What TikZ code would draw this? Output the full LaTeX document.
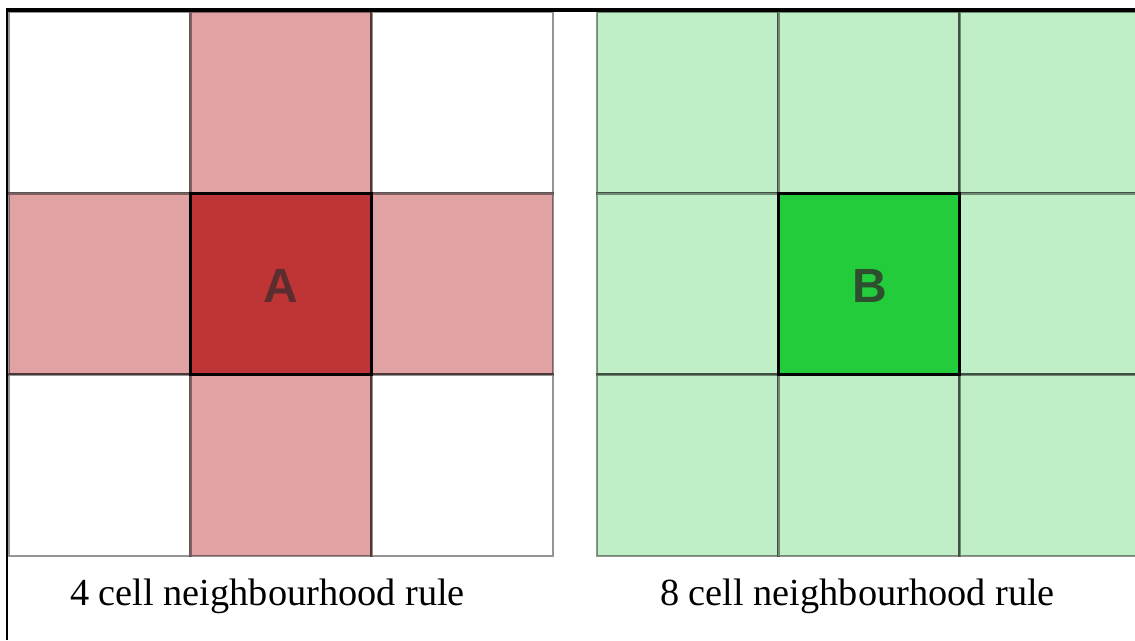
\documentclass[tikz,border=0pt]{standalone}
\usepackage{fontspec}
\setmainfont{Liberation Serif}
\newfontfamily\labfont{Liberation Sans}
\usetikzlibrary{positioning}
\definecolor{lred}{HTML}{E0A2A3}
\definecolor{dred}{HTML}{BF3434}
\definecolor{lgreen}{HTML}{C0EEC6}
\definecolor{dgreen}{HTML}{22CC3A}
\definecolor{atext}{HTML}{5C2D2F}
\definecolor{btext}{HTML}{2D4F2F}
\begin{document}
\begin{tikzpicture}[x=1pt,y=-1pt,
  cell/.style={rectangle,minimum width=181.3pt,minimum height=181.3pt,inner sep=0pt,outer sep=0pt,
    draw=black,draw opacity=0.42,line width=2.6pt},
  centercell/.style={cell,draw opacity=1,line width=3pt},
  letter/.style={font=\labfont\bfseries\fontsize{48}{52}\selectfont},
  caption/.style={font=\fontsize{38.3}{44}\selectfont,text=black,inner sep=0pt,anchor=base},
  frame/.style={black}]
\useasboundingbox (0,0) rectangle (1135,640);
\fill[white] (0,0) rectangle (1135,640);
% left grid (4-neighbourhood)
\node[cell,fill=white] (l11) at (99.65,102.65) {};
\node[cell,fill=lred]  (l12) at (281,102.65) {};
\node[cell,fill=white] (l13) at (462.35,102.65) {};
\node[cell,fill=lred]  (l21) at (99.65,284) {};
\node[cell,fill=lred]  (l23) at (462.35,284) {};
\node[cell,fill=white] (l31) at (99.65,465.35) {};
\node[cell,fill=lred]  (l32) at (281,465.35) {};
\node[cell,fill=white] (l33) at (462.35,465.35) {};
\node[centercell,fill=dred] (l22) at (281,284) {};
\node[letter,text=atext] (A) at (281,286) {A};
% right grid (8-neighbourhood)
\node[cell,fill=lgreen] (r11) at (687.65,102.65) {};
\node[cell,fill=lgreen] (r12) at (869,102.65) {};
\node[cell,fill=lgreen] (r13) at (1050.35,102.65) {};
\node[cell,fill=lgreen] (r21) at (687.65,284) {};
\node[cell,fill=lgreen] (r23) at (1050.35,284) {};
\node[cell,fill=lgreen] (r31) at (687.65,465.35) {};
\node[cell,fill=lgreen] (r32) at (869,465.35) {};
\node[cell,fill=lgreen] (r33) at (1050.35,465.35) {};
\node[centercell,fill=dgreen] (r22) at (869,284) {};
\node[letter,text=btext] (B) at (869.5,286) {B};
% captions
\node[caption] (capL) at (267.5,605) {4 cell neighbourhood rule};
\node[caption] (capR) at (857.5,605) {8 cell neighbourhood rule};
% frame lines
\coordinate (fbl) at (7,640);
\coordinate (ftl) at (7,10);
\coordinate (ftr) at (1135,10);
\draw[frame,line width=2.2pt] (fbl) -- (ftl);
\draw[frame,line width=3.2pt] ([xshift=-1.1pt]ftl) -- (ftr);
\end{tikzpicture}
\end{document}
